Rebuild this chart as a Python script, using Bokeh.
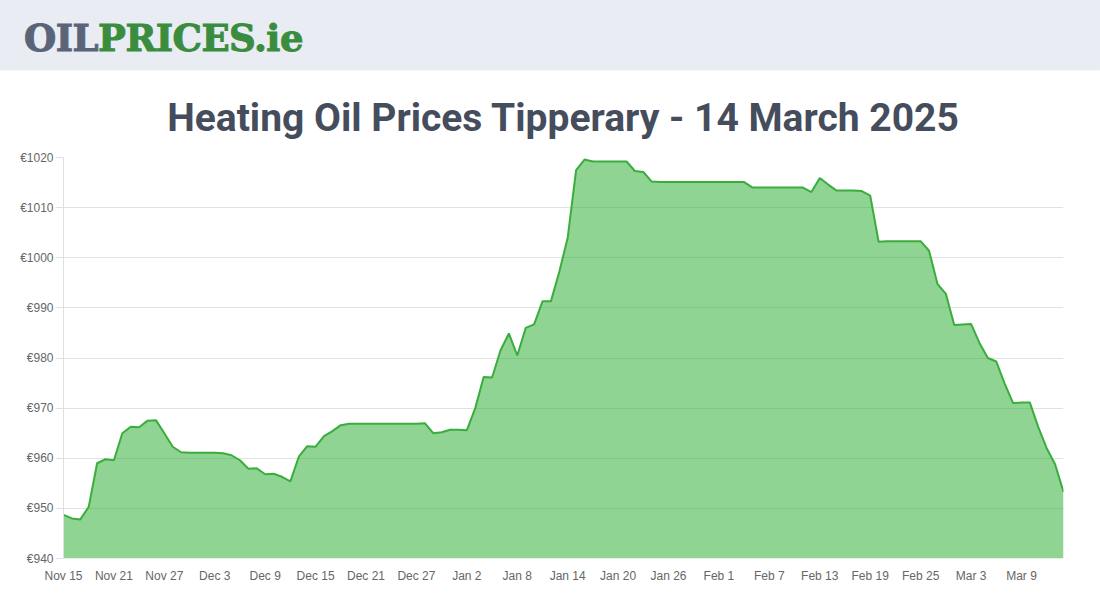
import pandas as pd
from bokeh.plotting import figure
from bokeh.models import Range1d, FixedTicker, Div, Title
from bokeh.layouts import column
from bokeh.embed import file_html
from bokeh.resources import INLINE

# ---- data ----
start_date = "2024-11-15"
end_date = "2025-03-14"
prices = [
    948.7, 948.0, 947.8, 950.3, 959.0, 959.8, 959.6, 965.0, 966.3, 966.2,
    967.5, 967.6, 965.0, 962.3, 961.2, 961.1, 961.1, 961.1, 961.1, 961.0,
    960.6, 959.6, 957.9, 958.0, 956.8, 956.9, 956.3, 955.4, 960.3, 962.4,
    962.3, 964.4, 965.4, 966.6, 966.9, 966.9, 966.9, 966.9, 966.9, 966.9,
    966.9, 966.9, 966.9, 967.0, 965.0, 965.2, 965.7, 965.7, 965.6, 970.0,
    976.2, 976.1, 981.5, 984.9, 980.5, 986.0, 986.7, 991.3, 991.3, 997.2,
    1004.0, 1017.5, 1019.6, 1019.2, 1019.2, 1019.2, 1019.2, 1019.2, 1017.3, 1017.1,
    1015.2, 1015.1, 1015.1, 1015.1, 1015.1, 1015.1, 1015.1, 1015.1, 1015.1, 1015.1,
    1015.1, 1015.1, 1014.0, 1014.0, 1014.0, 1014.0, 1014.0, 1014.0, 1014.0, 1013.1,
    1015.9, 1014.6, 1013.4, 1013.4, 1013.4, 1013.3, 1012.4, 1003.2, 1003.3, 1003.3,
    1003.3, 1003.3, 1003.3, 1001.4, 994.8, 992.8, 986.6, 986.7, 986.8, 983.0,
    980.0, 979.3, 974.9, 971.0, 971.1, 971.1, 966.2, 962.0, 958.8, 953.3,
]
y_ticks = [940, 950, 960, 970, 980, 990, 1000, 1010, 1020]
x_tick_step = 6
title_text = "Heating Oil Prices Tipperary - 14 March 2025"

dates = pd.date_range(start_date, end_date, freq="D")
labels = [f"{d.strftime('%b')} {d.day}" for d in dates]
xs = list(range(len(prices)))
x_ticks = xs[::x_tick_step]

# ---- header ----
header = Div(
    text=('<div style="padding:17px 0 0 24px;font-family:\'DejaVu Serif\';font-weight:bold;'
          'font-size:37px;letter-spacing:-0.5px;line-height:42px;white-space:nowrap;'
          '-webkit-text-stroke:1px">'
          '<span style="color:#5a6378">OIL</span><span style="color:#3a8c3e">PRICES.ie</span></div>'),
    width=1100, height=70, margin=0,
    styles={"background-color": "#e9ecf3", "box-shadow": "0 3px 6px rgba(0,0,0,0.06)"},
)

# ---- figure ----
p = figure(width=1100, height=522, x_range=Range1d(0, len(prices) - 1),
           y_range=Range1d(y_ticks[0], y_ticks[-1]),
           output_backend="svg", toolbar_location=None, margin=0,
           min_border_left=63, min_border_right=37, min_border_top=87, min_border_bottom=34)
p.title = Title(text=title_text, align="center",
                text_font="Roboto",
                text_font_size="39px", text_font_style="bold", text_color="#454d5d",
                standoff=34)
p.outline_line_color = None
p.background_fill_color = "white"
p.border_fill_color = "white"

p.varea(x=xs, y1=y_ticks[0], y2=prices, fill_color=(40, 172, 46), fill_alpha=0.52)
p.line(x=xs, y=prices, line_color="#3aad3c", line_width=2)

p.yaxis.ticker = FixedTicker(ticks=y_ticks)
p.yaxis.major_label_overrides = {t: f"€{t}" for t in y_ticks}
p.yaxis.axis_line_color = "#e0e0e0"
p.yaxis.major_tick_line_color = "#e0e0e0"
p.yaxis.major_tick_out = 8
p.yaxis.major_tick_in = 0
p.yaxis.minor_tick_line_color = None
p.yaxis.major_label_standoff = 2
p.yaxis.major_label_text_font = "Liberation Sans"
p.yaxis.major_label_text_font_size = "12px"
p.yaxis.major_label_text_color = "#666666"

p.xaxis.ticker = FixedTicker(ticks=x_ticks)
p.xaxis.major_label_overrides = {i: labels[i] for i in x_ticks}
p.xaxis.axis_line_color = None
p.xaxis.major_tick_line_color = None
p.xaxis.major_tick_out = 0
p.xaxis.major_tick_in = 0
p.xaxis.minor_tick_line_color = None
p.xaxis.major_label_standoff = 10
p.xaxis.major_label_text_font = "Liberation Sans"
p.xaxis.major_label_text_font_size = "12px"
p.xaxis.major_label_text_color = "#666666"

p.xgrid.grid_line_color = None
p.ygrid.ticker = FixedTicker(ticks=y_ticks)
p.ygrid.grid_line_color = "#e2e2e2"

layout = column(header, p, spacing=0)
open("out.html", "w").write(file_html(layout, INLINE))
